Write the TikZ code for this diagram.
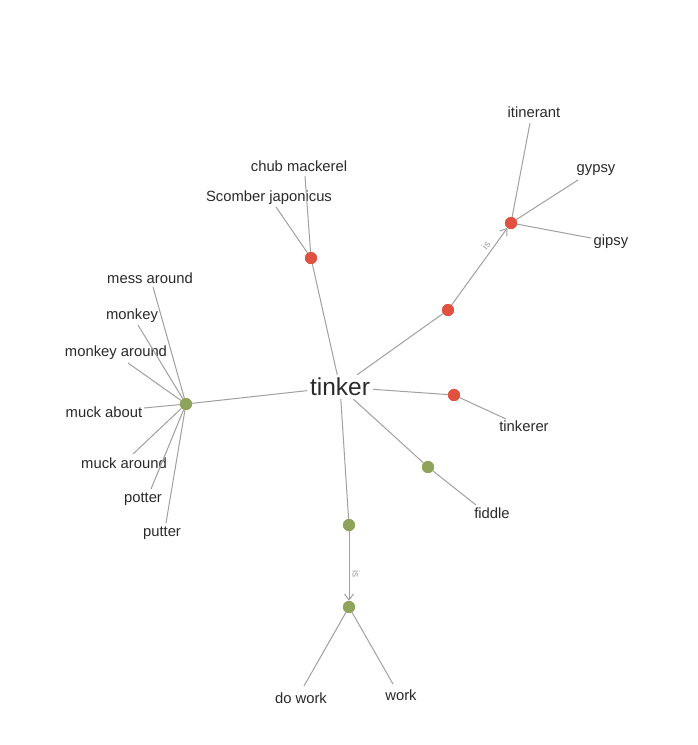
\documentclass[tikz,border=0pt]{standalone}
\usepackage{fontspec}
\setmainfont{Liberation Sans}
\usetikzlibrary{arrows.meta}
\definecolor{dotred}{HTML}{E0513F}
\definecolor{dotgreen}{HTML}{8FA35A}
\definecolor{edgegray}{HTML}{A0A0A0}
\definecolor{txt}{HTML}{2A2A2A}
\begin{document}
\begin{tikzpicture}[x=1pt,y=-1pt,
  reddot/.style={circle,fill=dotred,minimum size=12pt,inner sep=0pt},
  greendot/.style={circle,fill=dotgreen,minimum size=12pt,inner sep=0pt},
  lbl/.style={text=txt,font=\fontsize{14.8}{16}\selectfont,inner sep=2pt},
  edge/.style={draw=edgegray,line width=1pt},
  rel/.style={text=edgegray,font=\fontsize{10}{11}\selectfont,inner sep=3pt}]
\useasboundingbox (0,0) rectangle (697,745);
\fill[white] (0,0) rectangle (697,745);
% nodes
\node[text=txt,font=\fontsize{24.5}{28}\selectfont,inner sep=3pt] (tinker) at (340,387) {tinker};
\node[reddot] (rc) at (311,258) {};
\node[reddot] (rg1) at (448,310) {};
\node[reddot] (rg2) at (511,223) {};
\node[reddot] (rt) at (454,395) {};
\node[greendot] (gf) at (428,467) {};
\node[greendot] (gw1) at (349,525) {};
\node[greendot] (gw2) at (349,607) {};
\node[greendot] (gm) at (186,404) {};
% labels
\node[lbl] (chub) at (299,166) {chub mackerel};
\node[lbl] (scomber) at (269,198) {Scomber japonicus};
\node[lbl] (itin) at (534,112) {itinerant};
\node[lbl] (gypsy) at (596,170) {gypsy};
\node[lbl] (gipsy) at (611,242) {gipsy};
\node[lbl] (tinkerer) at (524,426) {tinkerer};
\node[lbl] (fiddle) at (492,513) {fiddle};
\node[lbl] (dowork) at (301,698) {do work};
\node[lbl] (work) at (401,695) {work};
\node[lbl] (mess) at (150,278) {mess around};
\node[lbl] (monkey) at (132,316) {monkey};
\node[lbl] (monkeya) at (116,353) {monkey around};
\node[lbl] (muckab) at (104,412) {muck about};
\node[lbl] (muckar) at (124,463) {muck around};
\node[lbl] (potter) at (143,499) {potter};
\node[lbl] (putter) at (162,533) {putter};
\coordinate (chubE) at (305,176);
\coordinate (scomE) at (276,207);
\coordinate (itinE) at (530,123);
\coordinate (gypsyE) at (578,180);
\coordinate (gipsyE) at (591,238);
\coordinate (tinkE) at (506,419);
\coordinate (fidE) at (476,505);
\coordinate (dwE) at (304,686);
\coordinate (wE) at (393,684);
\coordinate (messE) at (153,287);
\coordinate (monkE) at (138,325);
\coordinate (monkaE) at (128,363);
\coordinate (mabE) at (144,408);
\coordinate (marE) at (133,454);
\coordinate (potE) at (151,489);
\coordinate (putE) at (166,523);
% edges from tinker
\draw[edge] (tinker) -- (rc);
\draw[edge] (tinker) -- (rg1);
\draw[edge] (tinker) -- (rt);
\draw[edge] (tinker) -- (gf);
\draw[edge] (tinker) -- (gw1);
\draw[edge] (tinker) -- (gm);
% relation edges
\draw[edge,-{Straight Barb[length=6pt,width=9pt]}] (rg1) -- (rg2)
  node[rel,pos=0.72,sloped,above] {is};
\draw[edge,-{Straight Barb[length=6pt,width=9pt]}] (gw1) -- (gw2)
  node[rel,pos=0.62,sloped,above] {is};
% leaf edges
\draw[edge] (rc) -- (chubE);
\draw[edge] (rc) -- (scomE);
\draw[edge] (rg2) -- (itinE);
\draw[edge] (rg2) -- (gypsyE);
\draw[edge] (rg2) -- (gipsyE);
\draw[edge] (rt) -- (tinkE);
\draw[edge] (gf) -- (fidE);
\draw[edge] (gw2) -- (dwE);
\draw[edge] (gw2) -- (wE);
\draw[edge] (gm) -- (messE);
\draw[edge] (gm) -- (monkE);
\draw[edge] (gm) -- (monkaE);
\draw[edge] (gm) -- (mabE);
\draw[edge] (gm) -- (marE);
\draw[edge] (gm) -- (potE);
\draw[edge] (gm) -- (putE);
% redraw dots on top
\node[reddot] at (rc) {};
\node[reddot] at (rg1) {};
\node[reddot] at (rg2) {};
\node[reddot] at (rt) {};
\node[greendot] at (gf) {};
\node[greendot] at (gw1) {};
\node[greendot] at (gw2) {};
\node[greendot] at (gm) {};
\end{tikzpicture}
\end{document}
